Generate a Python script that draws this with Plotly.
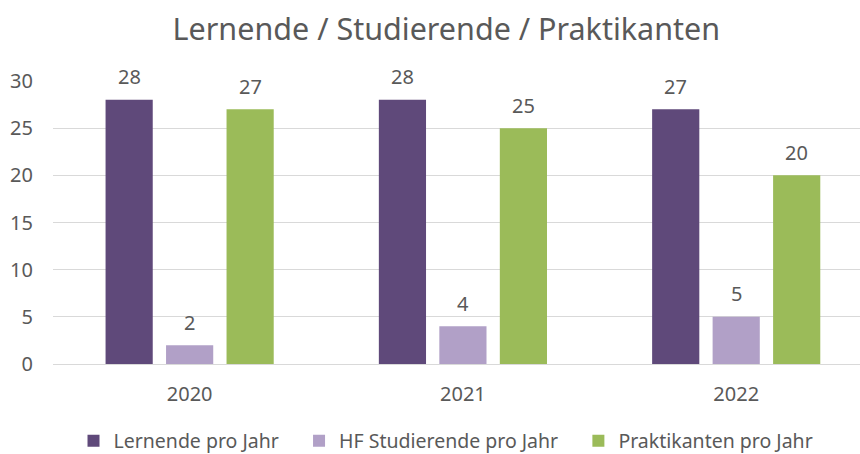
import plotly.graph_objects as go

# Chart data
years = ["2020", "2021", "2022"]
lernende = [28, 28, 27]
hf_studierende = [2, 4, 5]
praktikanten = [27, 25, 20]

series_names = ["Lernende pro Jahr", "HF Studierende pro Jahr", "Praktikanten pro Jahr"]
series_colors = ["#5F497A", "#B1A0C7", "#9BBB59"]
y_ticks = [0, 5, 10, 15, 20, 25, 30]

FONT = "Noto Sans, Open Sans, sans-serif"
TEXT_GRAY = "#595959"
BARGAP = 0.336
BARGROUPGAP = 0.22
NBSP = "\u00a0"

all_series = [lernende, hf_studierende, praktikanten]
legend_pad = [3, 3, 0]

fig = go.Figure()
for name, vals, color, pad in zip(series_names, all_series, series_colors, legend_pad):
    fig.add_trace(go.Bar(
        x=years,
        y=vals,
        name=name + NBSP * pad,
        marker=dict(color=color, line=dict(width=0)),
        hoverinfo="x+y",
    ))

# Value labels above each bar, placed at the bar's slot inside its group
n = len(all_series)
slot = (1 - BARGAP) / n
annotations = []
for k, vals in enumerate(all_series):
    offset = (k - (n - 1) / 2) * slot
    for i, v in enumerate(vals):
        annotations.append(dict(
            x=i + offset,
            y=v,
            xref="x",
            yref="y",
            text=str(v),
            showarrow=False,
            xanchor="center",
            yanchor="middle",
            yshift=23,
            font=dict(family=FONT, size=20, color=TEXT_GRAY),
        ))

fig.update_layout(
    width=860,
    height=454,
    margin=dict(l=53, r=0, t=81, b=90, autoexpand=False),
    paper_bgcolor="white",
    plot_bgcolor="white",
    barmode="group",
    bargap=BARGAP,
    bargroupgap=BARGROUPGAP,
    font=dict(family=FONT, color=TEXT_GRAY),
    title=dict(
        text="Lernende / Studierende / Praktikanten",
        x=0.519,
        xanchor="center",
        y=0.935,
        yanchor="middle",
        font=dict(family=FONT, size=30.5, color=TEXT_GRAY),
    ),
    annotations=annotations,
    showlegend=True,
    legend=dict(
        orientation="h",
        x=0.487,
        xanchor="center",
        y=-0.272,
        yanchor="middle",
        bgcolor="rgba(0,0,0,0)",
        borderwidth=0,
        font=dict(family=FONT, size=19.5, color=TEXT_GRAY),
        traceorder="normal",
    ),
    xaxis=dict(
        type="category",
        range=[-0.5, 2.453],
        showgrid=False,
        showline=False,
        ticks="",
        tickfont=dict(family=FONT, size=20, color=TEXT_GRAY),
        ticklabelstandoff=16,
    ),
    yaxis=dict(
        range=[0, 30],
        tickvals=y_ticks,
        showgrid=True,
        gridcolor="#D9D9D9",
        gridwidth=1,
        zeroline=True,
        zerolinecolor="#D9D9D9",
        zerolinewidth=1,
        showline=False,
        ticks="",
        tickfont=dict(family=FONT, size=20, color=TEXT_GRAY),
        ticklabelstandoff=19,
    ),
)

fig.write_html("out.html")
